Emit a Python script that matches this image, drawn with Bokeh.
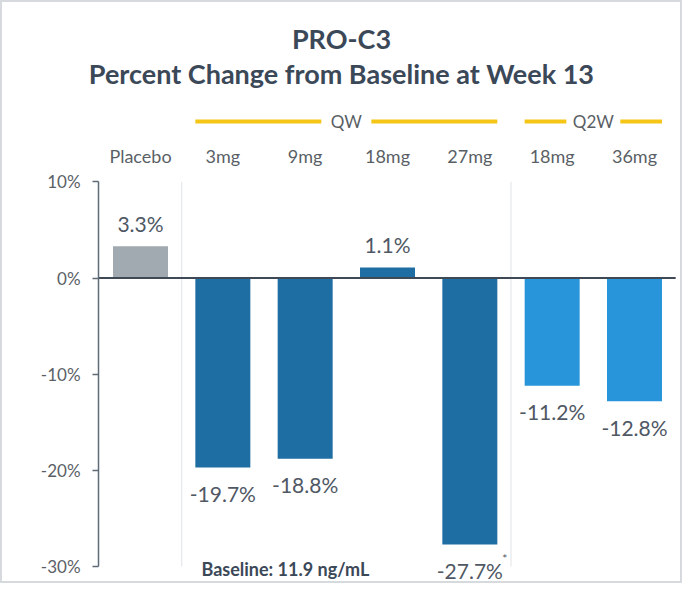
from bokeh.plotting import figure
from bokeh.models import Range1d, FixedTicker, PrintfTickFormatter, ColumnDataSource
from bokeh.core.properties import value
from bokeh.embed import file_html
from bokeh.resources import INLINE

# ---- data ----
dose_labels = ["Placebo", "3mg", "9mg", "18mg", "27mg", "18mg", "36mg"]
regimen = ["Placebo", "QW", "QW", "QW", "QW", "Q2W", "Q2W"]
pct_change = [3.3, -19.7, -18.8, 1.1, -27.7, -11.2, -12.8]
notes = ["", "", "", "", "*", "", ""]
group_names = ["QW", "Q2W"]
y_ticks = [-30, -20, -10, 0, 10]
title_lines = ["PRO-C3", "Percent Change from Baseline at Week 13"]
baseline_note = "Baseline: 11.9 ng/mL"

# ---- styles ----
FONT = "Lato"
colors_map = {"Placebo": "#a1aab1", "QW": "#1f6ea3", "Q2W": "#2894d9"}
TEXT = "#4f5864"
LABEL_C = "#5a5f66"
TITLE_C = "#3b4858"
GOLD = "#f5c518"

W, H = 682, 583
x_lo, x_hi = -1.7005, 6.583
y_lo, y_hi = -31.76, 28.85
px_x = W / (x_hi - x_lo)
BAR_W = 0.668

p = figure(width=W, height=H, output_backend="svg", toolbar_location=None,
           x_range=Range1d(x_lo, x_hi), y_range=Range1d(y_lo, y_hi),
           x_axis_location=None, min_border=0)
p.grid.visible = False
p.outline_line_color = "#d6dadf"
p.outline_line_width = 3
p.background_fill_color = "white"
p.border_fill_color = "white"

xs = list(range(len(dose_labels)))
ax_x = -0.51  # y-axis position, left of the first bar

# y axis inside frame
yax = p.yaxis[0]
yax.fixed_location = ax_x
yax.ticker = FixedTicker(ticks=y_ticks)
yax.formatter = PrintfTickFormatter(format="%d%%")
yax.bounds = (min(y_ticks), max(y_ticks))
yax.axis_line_color = "#5f6b78"
yax.axis_line_width = 1.5
yax.major_tick_line_color = "#5f6b78"
yax.major_tick_line_width = 1.5
yax.major_tick_out = 6
yax.major_tick_in = 0
yax.minor_tick_line_color = None
yax.major_label_text_font = FONT
yax.major_label_text_font_size = "17px"
yax.major_label_text_color = LABEL_C
yax.major_label_standoff = 12

# separators between regimens
for i in range(1, len(regimen)):
    if regimen[i] != regimen[i - 1]:
        p.segment(x0=i - 0.5, y0=max(y_ticks), x1=i - 0.5, y1=min(y_ticks),
                  line_color="#e6e8eb", line_width=1.2)

# bars
src = ColumnDataSource(dict(
    x=xs, top=pct_change, color=[colors_map[r] for r in regimen],
    lab=[f"{v:.1f}%" for v in pct_change],
    off=[-23 if v > 0 else 26 for v in pct_change],
    note=notes,
))
p.vbar(x="x", top="top", bottom=0, width=BAR_W, fill_color="color",
       line_color=None, source=src)

# zero line
p.segment(x0=ax_x, y0=0, x1=len(xs) - 0.5, y1=0,
          line_color="#3f4955", line_width=1.8)

# value labels
p.text(x="x", y="top", text="lab", y_offset="off", source=src,
       text_align="center", text_baseline="middle",
       text_font=value(FONT), text_font_size="21px", text_color=TEXT)
p.text(x="x", y="top", text="note", x_offset=35, y_offset=14, source=src,
       text_align="center", text_baseline="middle",
       text_font=value(FONT), text_font_size="12px", text_color=TEXT)

# category labels
p.text(x=xs, y=[12.73] * len(xs), text=dose_labels,
       text_align="center", text_baseline="middle",
       text_font=value(FONT), text_font_size="18px", text_color=LABEL_C)

# regimen group headers with gold lines
for g in group_names:
    idx = [i for i, r in enumerate(regimen) if r == g]
    left = idx[0] - BAR_W / 2
    right = idx[-1] + BAR_W / 2
    mid = (left + right) / 2
    half_gap = (len(g) * 2 + 21) / px_x
    p.segment(x0=[left, mid + half_gap], y0=[16.26, 16.26],
              x1=[mid - half_gap, right], y1=[16.26, 16.26],
              line_color=GOLD, line_width=4)
    p.text(x=[mid], y=[16.26], text=[g], text_align="center", text_baseline="middle",
           text_font=value(FONT), text_font_size="17px", text_color=LABEL_C)

# title
mid_x = (x_lo + x_hi) / 2
p.text(x=[mid_x, mid_x], y=[24.85, 21.3], text=title_lines,
       text_align="center", text_baseline="middle",
       text_font=value(FONT), text_font_size="27px", text_font_style="bold",
       text_color=TITLE_C)

# baseline note
p.text(x=[0.74], y=[-30.25], text=[baseline_note], text_align="left",
       text_baseline="middle", text_font=value(FONT), text_font_size="18px",
       text_font_style="bold", text_color=TITLE_C)

open("out.html", "w").write(file_html(p, INLINE))
